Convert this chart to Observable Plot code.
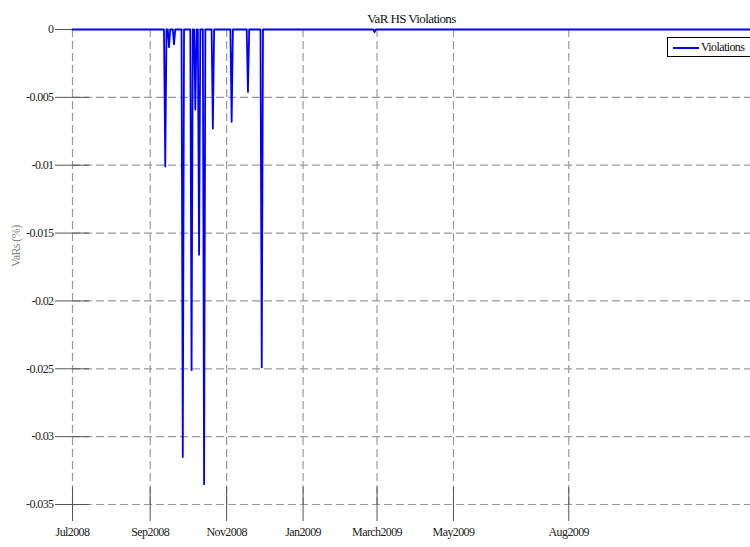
<!DOCTYPE html>
<html>
<head>
<meta charset="utf-8">
<script src="https://cdn.jsdelivr.net/npm/d3@7"></script>
<script src="https://cdn.jsdelivr.net/npm/@observablehq/plot@0.6"></script>
<style>
  html, body { margin: 0; padding: 0; background: #fff; overflow: hidden; }
  #wrap { position: relative; width: 750px; height: 547px; }
  #wrap svg text { letter-spacing: -0.6px; }
  #legend {
    position: absolute; left: 667px; top: 37px; width: 100px; height: 20px;
    border: 1px solid #000; background: #fff; box-sizing: border-box;
    font-family: "Liberation Serif", serif; font-size: 12px; letter-spacing: -0.6px; color: #111;
  }
  #legend .swatch { position: absolute; left: 5px; top: 9px; width: 26px; height: 2px; background: #0000ff; }
  #legend .lbl { position: absolute; left: 33px; top: 2px; line-height: 14px; }
</style>
</head>
<body>
<div id="wrap"></div>
<script>
// ---- data ----
const seriesStart = "2008-07-01";
const seriesEnd = "2009-12-24";
const violationDates = ["2008-09-13","2008-09-16","2008-09-20","2008-09-27","2008-10-04","2008-10-07","2008-10-10","2008-10-14","2008-10-21","2008-11-05","2008-11-18","2008-11-29","2009-02-27"];
const violationValues = [-0.0101,-0.0013,-0.0011,-0.0315,-0.0251,-0.0059,-0.0166,-0.0335,-0.0073,-0.0068,-0.0046,-0.0249,-0.0002];
const xTickDates = ["2008-07-01","2008-09-01","2008-11-01","2009-01-01","2009-03-01","2009-05-01","2009-08-01"];
const xTickLabels = ["Jul2008","Sep2008","Nov2008","Jan2009","March2009","May2009","Aug2009"];
const yTickValues = [0,-0.005,-0.01,-0.015,-0.02,-0.025,-0.03,-0.035];
const yTickLabels = ["0","-0.005","-0.01","-0.015","-0.02","-0.025","-0.03","-0.035"];
const titleText = "VaR HS Violations";
const yLabelText = "VaRs (%)";
const legendText = "Violations";

// ---- build table ----
const start = new Date(seriesStart), end = new Date(seriesEnd);
const violMap = new Map(violationDates.map((d, i) => [+new Date(d), violationValues[i]]));
const series = d3.utcDay.range(start, d3.utcDay.offset(end, 1)).map(d => ({date: d, value: violMap.has(+d) ? violMap.get(+d) : 0}));
const xTicks = xTickDates.map(d => new Date(d));
const xLabelOf = new Map(xTicks.map((d, i) => [+d, xTickLabels[i]]));
const yLabelOf = new Map(yTickValues.map((v, i) => [v, yTickLabels[i]]));
const yMin = d3.min(yTickValues), yMax = d3.max(yTickValues);

const gridStyle = {stroke: "#999", strokeOpacity: 1, strokeWidth: 1.2, strokeDasharray: "8,4"};

const chart = Plot.plot({
  width: 750,
  height: 547,
  marginTop: 29,
  marginBottom: 43,
  marginLeft: 72,
  marginRight: 0,
  style: {fontFamily: "'Liberation Serif', serif", fontSize: "12px", color: "#222", background: "#fff"},
  x: {type: "utc", domain: [start, end], label: null},
  y: {domain: [yMin, yMax], label: null},
  marks: [
    Plot.gridY(yTickValues, gridStyle),
    Plot.gridX(xTicks, gridStyle),
    Plot.ruleX(xTicks, {x: d => d, y1: yMin, y2: yMin, insetTop: -17, insetBottom: -17, stroke: "#555", strokeWidth: 1}),
    Plot.ruleY(yTickValues, {y: d => d, x1: start, x2: start, insetLeft: -17, insetRight: -17, stroke: "#555", strokeWidth: 1}),
    Plot.line(series, {x: "date", y: "value", stroke: "#0000ff", strokeWidth: 1.8}),
    Plot.axisX(xTicks, {tickSize: 0, tickPadding: 23, tickFormat: d => xLabelOf.get(+d), fill: "#222"}),
    Plot.axisY(yTickValues, {tickSize: 0, tickPadding: 19, tickFormat: v => yLabelOf.get(v), fill: "#222"}),
    Plot.text([titleText], {frameAnchor: "top", dy: -16, fontSize: 13, fill: "#111"}),
    Plot.text([yLabelText], {frameAnchor: "left", rotate: -90, dx: -56, fontSize: 12, fill: "#888"})
  ]
});

const wrap = document.getElementById("wrap");
wrap.appendChild(chart);
const legend = document.createElement("div");
legend.id = "legend";
legend.innerHTML = '<div class="swatch"></div><div class="lbl"></div>';
legend.querySelector(".lbl").textContent = legendText;
wrap.appendChild(legend);
</script>
</body>
</html>
